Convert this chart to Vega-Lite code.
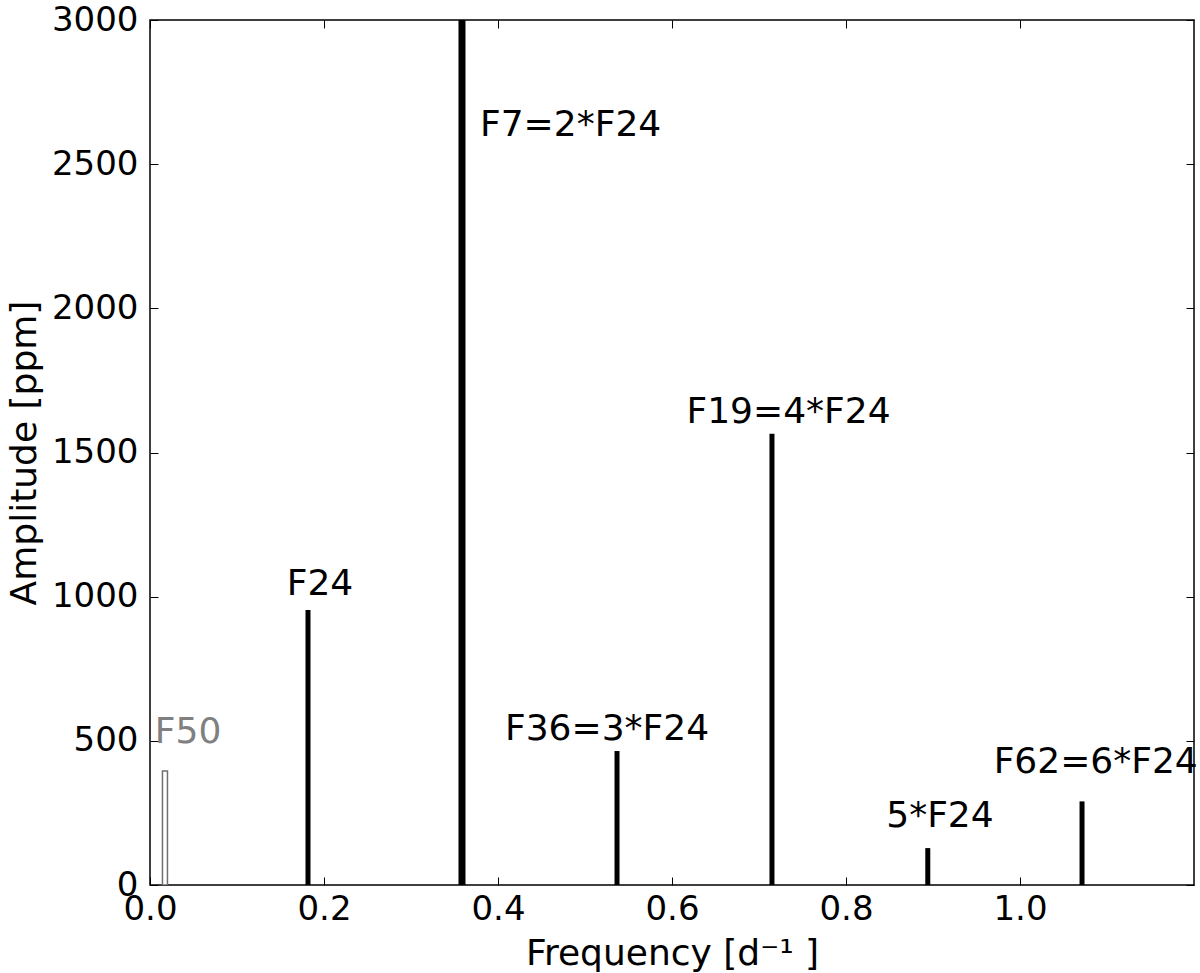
{
  "$schema": "https://vega.github.io/schema/vega-lite/v6.json",
  "width": 1044,
  "height": 865,
  "autosize": {"type": "none"},
  "padding": {"left": 150, "top": 20, "right": 6, "bottom": 88},
  "background": "white",
  "config": {
    "view": {"stroke": "black", "strokeWidth": 1.5},
    "font": "DejaVu Sans",
    "axis": {
      "domain": false,
      "grid": false,
      "tickColor": "black",
      "tickWidth": 1,
      "tickSize": 8,
      "offset": -8,
      "labelFont": "DejaVu Sans",
      "labelFontSize": 34,
      "labelColor": "black",
      "titleFont": "DejaVu Sans",
      "titleFontSize": 36,
      "titleFontWeight": "normal",
      "titleColor": "black",
      "labelOverlap": false,
      "labelFlush": false
    }
  },
  "datasets": {
    "peaks": [
      {"name": "F24", "freq": 0.1816, "amp": 954},
      {"name": "F36", "freq": 0.5368, "amp": 465},
      {"name": "F19", "freq": 0.7149, "amp": 1565},
      {"name": "5*F24", "freq": 0.894, "amp": 128},
      {"name": "F62", "freq": 1.0713, "amp": 290}
    ],
    "strong": [
      {"name": "F7", "freq": 0.3586, "amp": 3400}
    ],
    "weak": [
      {"name": "F50", "freq": 0.0172, "amp": 395}
    ],
    "labels": [
      {"text": "F24", "lx": 0.1954, "ly": 1006},
      {"text": "F36=3*F24", "lx": 0.5253, "ly": 503},
      {"text": "F19=4*F24", "lx": 0.7339, "ly": 1602},
      {"text": "5*F24", "lx": 0.908, "ly": 201},
      {"text": "F62=6*F24", "lx": 1.087, "ly": 388}
    ],
    "labelF7": [
      {"text": "F7=2*F24", "lx": 0.3793, "ly": 2598}
    ],
    "labelF50": [
      {"text": "F50", "lx": 0.0437, "ly": 492}
    ]
  },
  "layer": [
    {
      "layer": [
        {
          "data": {"name": "peaks"},
          "mark": {"type": "rule", "color": "black", "strokeWidth": 5, "strokeCap": "butt", "clip": true},
          "encoding": {
            "x": {"field": "freq", "type": "quantitative",
                  "scale": {"domain": [0, 1.2], "nice": false, "zero": false, "padding": 0},
                  "axis": {"values": [0, 0.2, 0.4, 0.6, 0.8, 1.0], "format": ".1f", "title": "Frequency [d⁻¹ ]", "labelPadding": 7, "titlePadding": 10}},
            "y": {"field": "amp", "type": "quantitative",
                  "scale": {"domain": [0, 3000], "nice": false, "padding": 0},
                  "axis": {"values": [0, 500, 1000, 1500, 2000, 2500, 3000], "format": "d", "title": "Amplitude [ppm]", "labelPadding": 12, "titlePadding": 8}},
            "y2": {"datum": 0}
          }
        },
        {
          "data": {"name": "strong"},
          "mark": {"type": "rule", "color": "black", "strokeWidth": 7, "strokeCap": "butt", "clip": true},
          "encoding": {
            "x": {"field": "freq", "type": "quantitative"},
            "y": {"field": "amp", "type": "quantitative"},
            "y2": {"datum": 0}
          }
        },
        {
          "data": {"name": "weak"},
          "mark": {"type": "bar", "size": 5, "fill": "white", "stroke": "#707070", "strokeWidth": 1.5, "clip": true},
          "encoding": {
            "x": {"field": "freq", "type": "quantitative"},
            "y": {"field": "amp", "type": "quantitative"},
            "y2": {"datum": 0}
          }
        },
        {
          "data": {"name": "labels"},
          "mark": {"type": "text", "fontSize": 36, "align": "center", "baseline": "alphabetic", "color": "black", "font": "DejaVu Sans"},
          "encoding": {
            "x": {"field": "lx", "type": "quantitative"},
            "y": {"field": "ly", "type": "quantitative"},
            "text": {"field": "text"}
          }
        },
        {
          "data": {"name": "labelF7"},
          "mark": {"type": "text", "fontSize": 36, "align": "left", "baseline": "alphabetic", "color": "black", "font": "DejaVu Sans"},
          "encoding": {
            "x": {"field": "lx", "type": "quantitative"},
            "y": {"field": "ly", "type": "quantitative"},
            "text": {"field": "text"}
          }
        },
        {
          "data": {"name": "labelF50"},
          "mark": {"type": "text", "fontSize": 36, "align": "center", "baseline": "alphabetic", "color": "#808080", "font": "DejaVu Sans"},
          "encoding": {
            "x": {"field": "lx", "type": "quantitative"},
            "y": {"field": "ly", "type": "quantitative"},
            "text": {"field": "text"}
          }
        }
      ]
    },
    {
      "data": {"name": "peaks"},
      "mark": {"type": "point", "opacity": 0},
      "encoding": {
        "x": {"field": "freq", "type": "quantitative",
              "axis": {"orient": "top", "values": [0, 0.2, 0.4, 0.6, 0.8, 1.0], "labels": false, "title": null}},
        "y": {"field": "amp", "type": "quantitative",
              "axis": {"orient": "right", "values": [0, 500, 1000, 1500, 2000, 2500, 3000], "labels": false, "title": null}}
      }
    }
  ],
  "resolve": {"axis": {"x": "independent", "y": "independent"}}
}
